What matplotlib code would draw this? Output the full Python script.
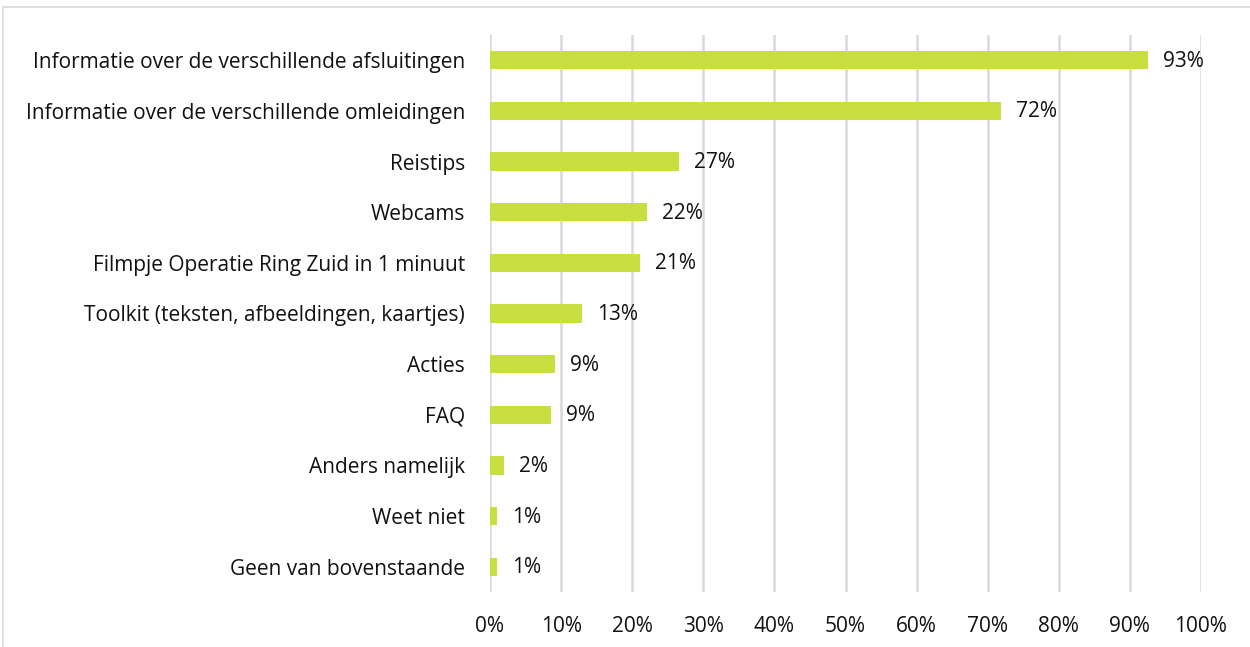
import matplotlib
matplotlib.use("Agg")
from matplotlib import pyplot as plt
from matplotlib.patches import Rectangle

# data, top to bottom
categories = [
    "Informatie over de verschillende afsluitingen",
    "Informatie over de verschillende omleidingen",
    "Reistips",
    "Webcams",
    "Filmpje Operatie Ring Zuid in 1 minuut",
    "Toolkit (teksten, afbeeldingen, kaartjes)",
    "Acties",
    "FAQ",
    "Anders namelijk",
    "Weet niet",
    "Geen van bovenstaande",
]
values = [92.6, 71.9, 26.6, 22.1, 21.1, 12.9, 9.1, 8.6, 2.0, 1.0, 1.0]
value_labels = ["93%", "72%", "27%", "22%", "21%", "13%", "9%", "9%", "2%", "1%", "1%"]
ticks = [0, 10, 20, 30, 40, 50, 60, 70, 80, 90, 100]
tick_labels = [str(t) + "%" for t in ticks]

plt.rcParams['font.family'] = ['Open Sans', 'DejaVu Sans']

fig = plt.figure(figsize=(12.5, 6.47), dpi=100)
ax = fig.add_axes([490 / 1250, 1 - 592 / 647, 711 / 1250, 557 / 647])

# outer frame of the chart area
fig.patches.append(Rectangle((3 / 1250, -0.01), 1.0, 1 - 7 / 647 + 0.01,
                             transform=fig.transFigure, fill=False,
                             edgecolor='#d9d9d9', linewidth=1.2))

ypos = list(range(len(categories)))
ax.barh(ypos, values, height=0.36, color='#c8df3f', zorder=3)
for y, v, lab in zip(ypos, values, value_labels):
    ax.text(v + 2.1, y + 0.02, lab, va='center', ha='left', fontsize=15, color='#111111')

ax.set_ylim(len(categories) - 0.5, -0.5)
ax.set_xlim(0, 100)
ax.set_yticks(ypos)
ax.set_yticklabels(categories, fontsize=15, color='#111111')
ax.set_xticks(ticks)
ax.set_xticklabels(tick_labels, fontsize=15, color='#111111')
ax.tick_params(axis='both', length=0)
ax.tick_params(axis='y', pad=18)
ax.tick_params(axis='x', pad=17)
ax.grid(axis='x', color='#d9d9d9', linewidth=1.8, zorder=0)
for s in ax.spines.values():
    s.set_visible(False)

plt.savefig("out.png", dpi=100)
plt.close()
